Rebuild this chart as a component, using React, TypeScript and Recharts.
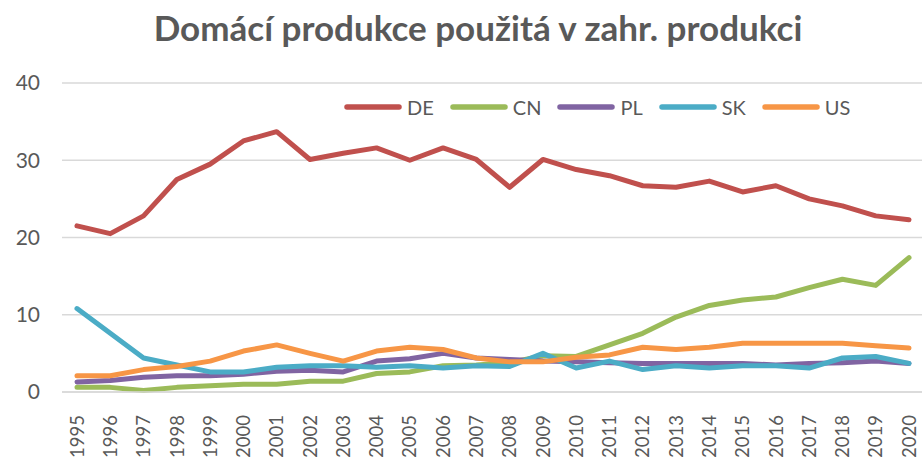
import React from "react";
import { LineChart, Line, XAxis, YAxis, CartesianGrid, Legend } from "recharts";

const years = ["1995","1996","1997","1998","1999","2000","2001","2002","2003","2004","2005","2006","2007","2008","2009","2010","2011","2012","2013","2014","2015","2016","2017","2018","2019","2020"];
const DE = [21.5, 20.5, 22.8, 27.5, 29.5, 32.5, 33.7, 30.1, 30.9, 31.6, 30.0, 31.6, 30.1, 26.5, 30.1, 28.8, 28.0, 26.7, 26.5, 27.3, 25.9, 26.7, 25.0, 24.1, 22.8, 22.3];
const CN = [0.6, 0.6, 0.2, 0.6, 0.8, 1.0, 1.0, 1.4, 1.4, 2.4, 2.6, 3.4, 3.5, 3.8, 4.7, 4.6, 6.1, 7.6, 9.7, 11.2, 11.9, 12.3, 13.5, 14.6, 13.8, 17.4];
const PL = [1.3, 1.5, 1.9, 2.1, 2.1, 2.3, 2.7, 2.8, 2.6, 4.0, 4.3, 5.0, 4.4, 4.2, 4.0, 3.9, 3.8, 3.7, 3.7, 3.7, 3.7, 3.5, 3.7, 3.8, 4.0, 3.7];
const SK = [10.8, 7.6, 4.4, 3.5, 2.6, 2.6, 3.2, 3.4, 3.4, 3.2, 3.4, 3.1, 3.4, 3.3, 5.0, 3.1, 4.0, 2.9, 3.4, 3.1, 3.4, 3.4, 3.1, 4.4, 4.6, 3.7];
const US = [2.1, 2.1, 2.9, 3.3, 4.0, 5.3, 6.1, 5.0, 4.0, 5.3, 5.8, 5.5, 4.4, 3.9, 3.9, 4.5, 4.8, 5.8, 5.5, 5.8, 6.3, 6.3, 6.3, 6.3, 6.0, 5.7];
const yTicks = [0, 10, 20, 30, 40];

const seriesNames = ["DE", "CN", "PL", "SK", "US"];
const seriesValues = [DE, CN, PL, SK, US];
const seriesColors = ["#C0504D", "#9BBB59", "#8064A2", "#4BACC6", "#F79646"];

const data = years.map((y, i) => {
  const row: any = { year: y };
  seriesNames.forEach((n, k) => (row[n] = seriesValues[k][i]));
  return row;
});

const FONT = "Lato, 'Open Sans', sans-serif";
const TXT = "#595959";

const XTick = (props: any) => {
  const { x, y, payload } = props;
  return (
    <g transform={`translate(${x},${y})`}>
      <text
        transform="rotate(-90)"
        x={-15}
        y={0}
        dy="0.36em"
        textAnchor="end"
        fill={TXT}
        fontSize={18.5}
        fontFamily={FONT}
      >
        {payload.value}
      </text>
    </g>
  );
};

const LegendContent = (props: any) => {
  const payload = [...(props.payload || [])].sort(
    (a: any, b: any) => seriesNames.indexOf(a.value) - seriesNames.indexOf(b.value)
  );
  return (
    <div style={{ display: "flex", alignItems: "center", fontFamily: FONT, fontSize: 20, color: TXT }}>
      {payload.map((p: any) => (
        <div key={p.value} style={{ display: "flex", alignItems: "center", marginRight: 16 }}>
          <svg width={58} height={8} style={{ display: "block" }}>
            <line x1={3} y1={4} x2={55} y2={4} stroke={p.color} strokeWidth={5.5} strokeLinecap="round" />
          </svg>
          <span style={{ marginLeft: 5, lineHeight: "24px" }}>{p.value}</span>
        </div>
      ))}
    </div>
  );
};

export default function App() {
  return (
    <div style={{ position: "absolute", left: 0, top: 0, width: 922, height: 457, background: "#fff" }}>
      <div
        style={{
          position: "absolute",
          left: 0,
          width: 956,
          top: 5,
          textAlign: "center",
          fontFamily: FONT,
          fontWeight: 700,
          fontSize: 35,
          color: TXT,
          lineHeight: "44px",
          whiteSpace: "nowrap",
        }}
      >
        Domácí produkce použitá v zahr. produkci
      </div>
      <LineChart
        width={922}
        height={457}
        data={data}
        margin={{ top: 83, right: 0, bottom: 0, left: 0 }}
        style={{ position: "absolute", left: 0, top: 0 }}
      >
        <CartesianGrid vertical={false} stroke="#D9D9D9" strokeWidth={1.3} />
        <XAxis
          dataKey="year"
          interval={0}
          height={65}
          padding={{ left: 15, right: 13 }}
          tickLine={false}
          axisLine={{ stroke: "#D9D9D9", strokeWidth: 1.3 }}
          tick={<XTick />}
        />
        <YAxis
          domain={[0, 40]}
          ticks={yTicks}
          width={62}
          axisLine={false}
          tickLine={false}
          tickSize={0}
          tickMargin={22}
          tick={{ fill: TXT, fontSize: 21, fontFamily: FONT }}
        />
        <Legend
          verticalAlign="middle"
          align="center"
          layout="horizontal"
          content={<LegendContent />}
          wrapperStyle={{ position: "absolute", top: 95, left: 344, width: 560 }}
        />
        {seriesNames.map((n, k) => (
          <Line
            key={n}
            type="linear"
            dataKey={n}
            stroke={seriesColors[k]}
            strokeWidth={5}
            strokeLinecap="round"
            strokeLinejoin="round"
            dot={false}
            isAnimationActive={false}
          />
        ))}
      </LineChart>
    </div>
  );
}
